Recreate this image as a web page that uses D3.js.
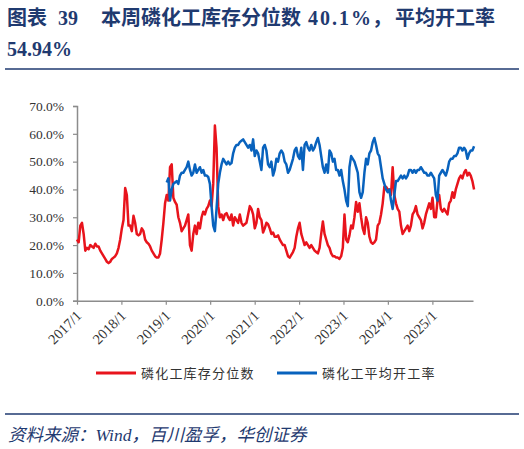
<!DOCTYPE html>
<html><head><meta charset="utf-8">
<script src="https://cdn.jsdelivr.net/npm/d3@7"></script>
<style>
html,body{margin:0;padding:0;background:#fff;}
svg{display:block;}
</style></head>
<body>
<script>
// ---- data ----
const startDate = "2017-01-01";
const stepDays = 13.66;           // spacing of readings
const xTickLabels = ["2017/1","2018/1","2019/1","2020/1","2021/1","2022/1","2023/1","2024/1","2025/1"];
const yTicks = [0,10,20,30,40,50,60,70];
const seriesNames = ["磷化工库存分位数","磷化工平均开工率"];
// 磷化工库存分位数 (%), from 2017/1
const inventoryPct = [
22,21,27,28,24,18,19,18.5,20,19.5,19,20.5,19.5,19.5,18,17,16,15,14,13.5,14,15,15.5,16,17,19,22,26,29,40.5,
38,27,27,25,30.5,28,24,23.5,24,26,25,22,21,20.5,19.5,18,17,16,15.5,15.5,17,22,28,35,38,36,48,49,37,35.5,
34.5,30,28,25,26,27,29,31,20,18,24,27,24,28,26,30,32,31,33,34,36,34,42,63,55,34,30,31,29,31,
31.5,30,29,31,27,30,29,28,31,28,27,27.5,28,31,34,33,31,26,
28,33,30,29,24.5,26,28,27.5,26,24,24.5,23,23,23.5,22,21,20,20,18,16,15.5,16.5,17.5,19,23,26,28,24,22,20,
21,20,19,20,19,18,17.5,17,19,24,28.5,24,22,20,19,17,16,16,15.5,15.5,15,16,19,31,22,21,23.5,27,26,30,
35.5,32,35,30,26,24,30,28,23,21,20.5,21,22,27,28,31,35,41,41,40,40,38,48,38,35,33,32,27,24,25,
26,27,25,27,31,32,34,31,30,29,26,28,31,33,35,33,37,30,30,36,38,33,32,33,32,31,35,36,39,37,
40,42,44,45,44,46,47,45,46,45,43,40
];
// 磷化工平均开工率 (%), starts at reading index 54 (2019/1)
const blueStartIndex = 54;
const operatingRate = [
42.5,44,36,40,42,42.5,43,42,45,46,46,47,48,50,47,45,46,49,46,47,48,46,47,45,45,44.5,42,34,27,25,
33,42,46,49,51,50,49,50,49,49.5,53,55,56,56,57,57.5,58,57,56,55,56,54,58,52,
54,53,50,47,55,56,54,49,48,50,45,47,51,50,53,54,53,50,49,46,47,49,51,54,55,52,51,55,47,56,57,55,54,56,54,55,
57,58.5,56,52,48,46,49,46,54,53,50,51,47,47,45,47,43,40,36,34,48,52,51,50,48,46,39,37,39,46,51,49,53,54,
57,58.5,56,53,52,48,44,42,40,39,40,36,33,38,43,43,44,45,44,45,44,45,47,47,46,47,46,47,47,48,
47,46,46,45,45,46,45,44,38,36,45,46,47,46,45,47,50,51,51,52,52,53,55,55,54,55,54,51,53,54,54,55.5
];

// ---- chart ----
const W = 524, H = 449;
const svg = d3.select("body").append("svg").attr("width", W).attr("height", H);
const navy = "#1f3a70";
const red = "#e8141c", blue = "#0862bd";

// title
const serifB = "'Liberation Serif','Noto Sans CJK SC',serif";
const title = svg.append("g").attr("fill", navy).attr("font-size", 20)
  .attr("font-weight", "bold").attr("font-family", serifB);
[["图表", 7, 25, 0], ["39", 58, 25, 0], ["本周磷化工库存分位数", 101, 25, 0], ["40.1%", 308, 25, 2],
 ["，", 372, 25, 0], ["平均开工率", 395, 25, 0], ["54.94%", 7, 56, 0]].forEach(([s, px, py, ls]) =>
  title.append("text").attr("x", px).attr("y", py).attr("letter-spacing", ls).text(s));
svg.append("line").attr("x1", 5).attr("x2", 519).attr("y1", 69).attr("y2", 69)
  .attr("stroke", navy).attr("stroke-width", 1.5);

const parse = d3.utcParse("%Y-%m-%d");
const t0 = parse(startDate);
const dateAt = i => new Date(t0.getTime() + i * stepDays * 86400000);

const x = d3.scaleUtc().domain([parse("2017-01-01"), parse("2025-12-01")]).range([77, 473]);
const y = d3.scaleLinear().domain([0, 70]).range([300.7, 106]);

const gy = svg.append("g").attr("transform", "translate(77,0)")
  .call(d3.axisLeft(y).tickValues(yTicks).tickSize(4).tickPadding(9).tickFormat(d => d.toFixed(1) + "%"));
gy.select(".domain").attr("stroke", "#8c8c8c").attr("stroke-width", 1.5);
gy.selectAll(".tick line").attr("stroke", "#8c8c8c").attr("stroke-width", 1.2);
gy.selectAll(".tick text").attr("font-family", "'Liberation Serif',serif").attr("font-size", 13.5).attr("fill", "#333");

const xTickDates = xTickLabels.map(s => parse(s.replace("/", "-").replace(/-(\d)$/, "-0$1") + "-01"));
const gx = svg.append("g").attr("transform", "translate(0,300.7)")
  .call(d3.axisBottom(x).tickValues(xTickDates).tickSize(4).tickSizeOuter(0).tickFormat((d, i) => xTickLabels[i]));
gx.select(".domain").attr("stroke", "#8c8c8c").attr("stroke-width", 1.5);
gx.selectAll(".tick line").attr("stroke", "#8c8c8c").attr("stroke-width", 1.2);
gx.selectAll(".tick text").attr("font-family", "'Liberation Serif',serif").attr("font-size", 14.5).attr("fill", "#333")
  .attr("text-anchor", "end").attr("y", 0).attr("dy", 0).attr("transform", "translate(5,16) rotate(-45)");

const line = d3.line().x(d => x(d.date)).y(d => y(d.v));
const redData = inventoryPct.map((v, i) => ({date: dateAt(i), v}));
const blueData = operatingRate.map((v, i) => ({date: dateAt(i + blueStartIndex), v}));

svg.append("path").datum(redData).attr("d", line).attr("fill", "none")
  .attr("stroke", red).attr("stroke-width", 2.5).attr("stroke-linejoin", "round");
svg.append("path").datum(blueData).attr("d", line).attr("fill", "none")
  .attr("stroke", blue).attr("stroke-width", 2.5).attr("stroke-linejoin", "round");

// legend
const legend = [{name: seriesNames[0], c: red, x: 96}, {name: seriesNames[1], c: blue, x: 277}];
legend.forEach(l => {
  svg.append("line").attr("x1", l.x).attr("x2", l.x + 40).attr("y1", 373).attr("y2", 373)
    .attr("stroke", l.c).attr("stroke-width", 3);
  svg.append("text").attr("x", l.x + 45).attr("y", 378).attr("font-size", 13)
    .attr("font-family", "'Noto Sans CJK SC',sans-serif").attr("fill", "#333")
    .attr("letter-spacing", 1.2).text(l.name);
});

// source
svg.append("line").attr("x1", 5).attr("x2", 519).attr("y1", 414).attr("y2", 414)
  .attr("stroke", navy).attr("stroke-width", 1.5);
svg.append("text").attr("x", 8).attr("y", 441).attr("fill", navy).attr("font-size", 17.5)
  .attr("font-style", "italic").attr("font-family", "'Liberation Serif','Noto Sans CJK SC',serif")
  .text("资料来源：Wind，百川盈孚，华创证券");
</script>
</body></html>
